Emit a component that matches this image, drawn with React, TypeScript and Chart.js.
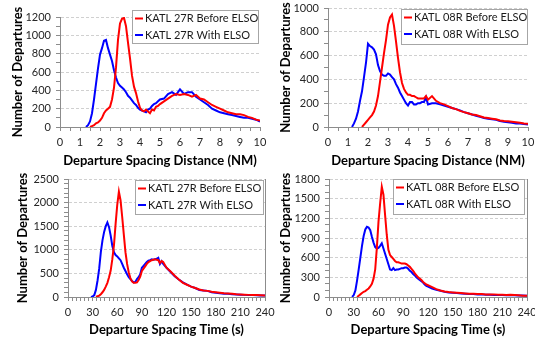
import React, { useEffect, useRef } from "react";
import { Chart, registerables } from "chart.js";

Chart.register(...registerables);

// ---------------- DATA ----------------
// Departure spacing distance (NM) sample points (shared by top panels)
const distX = [
  1.2, 1.3, 1.4, 1.5, 1.6, 1.7, 1.8, 1.9, 2.0, 2.1, 2.2, 2.3, 2.4, 2.5, 2.6, 2.7, 2.8, 2.9, 3.0, 3.1,
  3.2, 3.3, 3.4, 3.5, 3.6, 3.7, 3.8, 3.9, 4.0, 4.1, 4.2, 4.3, 4.4, 4.5, 4.6, 4.7, 4.8, 4.9, 5.0,
  5.2, 5.4, 5.6, 5.8, 6.0, 6.2, 6.4, 6.6, 6.8, 7.0, 7.2, 7.4, 7.6, 7.8, 8.0, 8.2, 8.4, 8.6, 8.8, 9.0,
  9.2, 9.4, 9.6, 9.8, 10.0,
];

const dist27RBefore = [
  null, null, null, 0, 10, 20, 40, 50, 70, 100, 150, 180, 200, 220, 300, 430, 650, 950, 1130, 1180,
  1190, 1100, 920, 750, 560, 440, 370, 280, 210, 180, 170, 190, 170, 150, 190, 180, 220, 230, 250,
  280, 310, 340, 360, 350, 360, 350, 330, 350, 310, 300, 270, 240, 220, 200, 180, 160, 150, 140, 140,
  130, 110, 100, 80, 70,
];
const dist27RWith = [
  null, 0, 20, 60, 150, 300, 470, 640, 790, 860, 940, 950, 860, 790, 720, 620, 540, 480, 450, 430,
  410, 380, 340, 320, 290, 260, 240, 210, 190, 180, 170, 160, 190, 200, 230, 250, 260, 280, 300,
  310, 360, 380, 350, 410, 360, 380, 380, 330, 300, 270, 240, 200, 180, 160, 150, 140, 130, 120, 110,
  100, 100, 90, 80, 60,
];
const dist08RBefore = [
  null, null, null, null, null, 0, 20, 40, 60, 80, 100, 130, 180, 260, 380, 500, 620, 730, 860, 920,
  945, 850, 720, 580, 460, 370, 320, 290, 270, 270, 260, 260, 250, 240, 240, 240, 240, 260, 230,
  260, 220, 200, 190, 175, 160, 150, 135, 125, 115, 105, 100, 90, 80, 75, 70, 65, 55, 50, 48,
  45, 40, 35, 30, 28,
];
const dist08RWith = [
  0, 30, 70, 130, 220, 300, 420, 540, 700, 680, 670, 650, 610, 520, 470, 440, 430, 430, 450, 440,
  420, 400, 360, 330, 290, 260, 230, 200, 180, 210, 210, 190, 190, 200, 200, 210, 210, 250, 190,
  200, 200, 190, 180, 170, 160, 150, 140, 125, 115, 105, 95, 85, 75, 70, 65, 60, 50, 45, 40,
  35, 30, 30, 25, 22,
];

// Departure spacing time (s) sample points (shared by bottom panels)
const timeX = [
  28, 30, 32, 34, 36, 38, 40, 42, 44, 46, 48, 50, 52, 54, 56, 58, 60, 62, 64, 66, 68, 70, 72, 74, 76,
  78, 80, 82, 84, 86, 88, 90, 92, 94, 96, 98, 100, 102, 104, 106, 108, 110, 112, 114, 116, 118, 120,
  125, 130, 135, 140, 145, 150, 155, 160, 165, 170, 175, 180, 185, 190, 195, 200, 205, 210, 215, 220,
  225, 230, 235, 240,
];

const time27RBefore = [
  null, null, null, 5, 15, 30, 60, 100, 150, 220, 300, 420, 560, 800, 1100, 1550, 1950, 2230, 2050,
  1700, 1320, 950, 700, 520, 400, 330, 300, 300, 310, 360, 430, 550, 600, 650, 700, 740, 760, 780,
  790, 800, 790, 780, 720, 760, 740, 680, 620,
  540, 450, 370, 300, 260, 220, 190, 160, 140, 130, 110, 100, 90, 80, 75, 70, 60, 55, 50, 45, 40, 40,
  35, 30,
];
const time27RWith = [
  0, 10, 40, 150, 350, 600, 950, 1200, 1380, 1500, 1580, 1480, 1300, 1080, 950, 890, 860, 820, 780,
  700, 620, 550, 480, 420, 380, 340, 310, 320, 380, 420, 480, 620, 660, 700, 740, 770, 780, 800, 790,
  800, 810, 830, 700, 760, 700, 660, 620,
  530, 440, 370, 310, 260, 220, 190, 150, 140, 130, 100, 90, 80, 70, 70, 60, 55, 50, 45, 40, 40, 35,
  30, 30,
];
const time08RBefore = [
  null, null, null, 0, 20, 40, 60, 80, 90, 110, 130, 160, 200, 280, 420, 750, 1150, 1430, 1680, 1560,
  1250, 950, 720, 640, 610, 580, 550, 530, 530, 520, 510, 510, 510, 500, 480, 460, 430, 400, 360, 330,
  300, 280, 260, 230, 210, 190, 180,
  150, 120, 100, 85, 75, 70, 65, 60, 55, 50, 50, 45, 45, 40, 40, 40, 35, 35, 30, 35, 30, 25, 20, 20,
];
const time08RWith = [
  0, 30, 100, 250, 420, 600, 780, 930, 1030, 1070, 1060, 1020, 920, 830, 760, 740, 750, 780, 820, 740,
  660, 580, 500, 420, 410, 440, 410, 420, 420, 430, 440, 440, 450, 450, 430, 400, 380, 350, 330, 300,
  280, 260, 240, 220, 190, 170, 160,
  130, 110, 95, 80, 70, 65, 60, 55, 50, 45, 45, 40, 40, 35, 35, 30, 30, 30, 25, 25, 25, 22, 22, 20,
];

const seriesLabels27R = ["KATL 27R Before ELSO", "KATL 27R With ELSO"];
const seriesLabels08R = ["KATL 08R Before ELSO", "KATL 08R With ELSO"];
const yTitle = "Number of Departures";
const xTitleDist = "Departure Spacing Distance (NM)";
const xTitleTime = "Departure Spacing Time (s)";

// ---------------- LAYOUT / STYLE ----------------
const FONT = "Lato, 'Open Sans', sans-serif";
const AXIS_GRAY = "#8c8c8c";
const GRID_GRAY = "#d0d0d0";

type Panel = {
  key: string;
  left: number; top: number; width: number; height: number;
  area: { left: number; top: number; right: number; bottom: number };
  xs: number[]; before: (number | null)[]; withE: (number | null)[];
  labels: string[]; xTitle: string;
  xMax: number; xStep: number; xMajor: number;
  yMax: number; yStep: number; yMajor: number;
  legendBox: { x: number; y: number; w: number; h: number };
  rightBorder: boolean;
  yTitlePad: number; xTitlePad: number;
};

const panels: Panel[] = [
  {
    key: "tl", left: 0, top: 0, width: 268, height: 170,
    area: { left: 60, top: 17, right: 260, bottom: 127 },
    xs: distX, before: dist27RBefore, withE: dist27RWith, labels: seriesLabels27R, xTitle: xTitleDist,
    xMax: 10, xStep: 0.5, xMajor: 1, yMax: 1200, yStep: 100, yMajor: 200,
    legendBox: { x: 132, y: 10, w: 126, h: 33 }, rightBorder: false, yTitlePad: 10, xTitlePad: 1,
  },
  {
    key: "tr", left: 268, top: 0, width: 267, height: 170,
    area: { left: 60, top: 8, right: 260, bottom: 127 },
    xs: distX, before: dist08RBefore, withE: dist08RWith, labels: seriesLabels08R, xTitle: xTitleDist,
    xMax: 10, xStep: 0.5, xMajor: 1, yMax: 1000, yStep: 100, yMajor: 200,
    legendBox: { x: 133, y: 9, w: 126, h: 35 }, rightBorder: false, yTitlePad: 10.5, xTitlePad: 1,
  },
  {
    key: "bl", left: 0, top: 170, width: 278, height: 171,
    area: { left: 68, top: 9, right: 265, bottom: 127 },
    xs: timeX, before: time27RBefore, withE: time27RWith, labels: seriesLabels27R, xTitle: xTitleTime,
    xMax: 240, xStep: 5, xMajor: 30, yMax: 2500, yStep: 100, yMajor: 500,
    legendBox: { x: 135, y: 10, w: 128, h: 34 }, rightBorder: true, yTitlePad: 15, xTitlePad: 3.5,
  },
  {
    key: "br", left: 268, top: 170, width: 267, height: 171,
    area: { left: 61, top: 9, right: 259, bottom: 127 },
    xs: timeX, before: time08RBefore, withE: time08RWith, labels: seriesLabels08R, xTitle: xTitleTime,
    xMax: 240, xStep: 5, xMajor: 30, yMax: 1800, yStep: 100, yMajor: 300,
    legendBox: { x: 125, y: 9, w: 131, h: 35 }, rightBorder: true, yTitlePad: 10, xTitlePad: 3.5,
  },
];

const isMultiple = (v: number, m: number) => Math.abs(v / m - Math.round(v / m)) < 1e-6;

const toPoints = (xs: number[], ys: (number | null)[]) =>
  xs.map((x, i) => ({ x, y: ys[i] })).filter((p) => p.y !== null && p.y !== undefined);

const boxLegendPlugin = {
  id: "boxLegend",
  afterDatasetsDraw(chart: any, _args: any, opts: any) {
    const b = opts && opts.box;
    if (!b) return;
    const ctx = chart.ctx as CanvasRenderingContext2D;
    ctx.save();
    ctx.fillStyle = "#ffffff";
    ctx.fillRect(b.x, b.y, b.w, b.h);
    ctx.strokeStyle = "#a6a6a6";
    ctx.lineWidth = 1;
    ctx.strokeRect(b.x + 0.5, b.y + 0.5, b.w, b.h);
    ctx.font = `11px ${FONT}`;
    ctx.textBaseline = "middle";
    ctx.textAlign = "left";
    chart.data.datasets.forEach((ds: any, i: number) => {
      const cy = b.y + 8.5 + i * 16.5;
      ctx.strokeStyle = ds.borderColor;
      ctx.lineWidth = 2;
      ctx.beginPath();
      ctx.moveTo(b.x + 3, cy);
      ctx.lineTo(b.x + 11, cy);
      ctx.stroke();
      ctx.fillStyle = "#1a1a1a";
      ctx.fillText(ds.label, b.x + 13, cy);
    });
    ctx.restore();
  },
};

function PanelChart({ p }: { p: Panel }) {
  const ref = useRef<HTMLCanvasElement | null>(null);
  useEffect(() => {
    if (!ref.current) return;
    const tickFont = { family: FONT, size: 11 };
    const titleFont = { family: FONT, size: 13, weight: "bold" as const };
    const chart = new Chart(ref.current, {
      type: "line",
      data: {
        datasets: [
          {
            label: p.labels[0],
            data: toPoints(p.xs, p.before) as any,
            borderColor: "#FF0000",
            backgroundColor: "#FF0000",
            borderWidth: 2,
            pointRadius: 0,
            tension: 0,
            fill: false,
          },
          {
            label: p.labels[1],
            data: toPoints(p.xs, p.withE) as any,
            borderColor: "#0000FF",
            backgroundColor: "#0000FF",
            borderWidth: 2,
            pointRadius: 0,
            tension: 0,
            fill: false,
          },
        ],
      },
      options: {
        animation: false,
        responsive: false,
        maintainAspectRatio: false,
        events: [],
        layout: {
          padding: { left: 0, top: p.area.top, right: p.width - p.area.right, bottom: 0 },
        },
        plugins: {
          legend: { display: false },
          tooltip: { enabled: false },
          // @ts-ignore
          boxLegend: { box: p.legendBox },
        },
        scales: {
          x: {
            type: "linear",
            min: 0,
            max: p.xMax,
            ticks: {
              stepSize: p.xStep,
              autoSkip: false,
              maxRotation: 0,
              minRotation: 0,
              padding: 5,
              font: tickFont,
              color: "#262626",
              callback: (v: any) => (isMultiple(Number(v), p.xMajor) ? String(v) : ""),
            },
            grid: {
              drawTicks: true,
              tickLength: 4,
              tickColor: AXIS_GRAY,
              color: (ctx: any) =>
                p.rightBorder && ctx.tick && Math.abs(ctx.tick.value - p.xMax) < 1e-6
                  ? AXIS_GRAY
                  : "rgba(0,0,0,0)",
            },
            border: { display: true, color: AXIS_GRAY, width: 1 },
            title: {
              display: true,
              text: p.xTitle,
              font: titleFont,
              color: "#000000",
              padding: { top: 0, bottom: p.xTitlePad },
            },
            afterFit: (s: any) => {
              s.height = p.height - p.area.bottom;
              s.paddingLeft = 0;
              s.paddingRight = 0;
            },
          },
          y: {
            type: "linear",
            min: 0,
            max: p.yMax,
            ticks: {
              stepSize: p.yStep,
              autoSkip: false,
              padding: 5,
              font: tickFont,
              color: "#262626",
              callback: (v: any) => (isMultiple(Number(v), p.yMajor) ? String(v) : ""),
            },
            grid: {
              drawTicks: true,
              tickLength: 4,
              tickColor: AXIS_GRAY,
              color: (ctx: any) =>
                ctx.tick && isMultiple(ctx.tick.value, p.yMajor) ? GRID_GRAY : "rgba(0,0,0,0)",
            },
            border: { display: true, color: AXIS_GRAY, width: 1, dash: [3, 2] },
            title: {
              display: true,
              text: yTitle,
              font: titleFont,
              color: "#000000",
              padding: { top: p.yTitlePad, bottom: 0 },
            },
            afterFit: (s: any) => {
              s.width = p.area.left;
              s.paddingTop = 0;
              s.paddingBottom = 0;
            },
          },
        },
      } as any,
      plugins: [boxLegendPlugin],
    });
    return () => chart.destroy();
  }, [p]);
  return (
    <canvas
      ref={ref}
      width={p.width}
      height={p.height}
      style={{ position: "absolute", left: p.left, top: p.top, width: p.width, height: p.height }}
    />
  );
}

export default function App() {
  return (
    <div
      style={{
        position: "absolute",
        left: 0,
        top: 0,
        width: 535,
        height: 341,
        background: "#ffffff",
        overflow: "hidden",
      }}
    >
      {panels.map((p) => (
        <PanelChart key={p.key} p={p} />
      ))}
    </div>
  );
}
